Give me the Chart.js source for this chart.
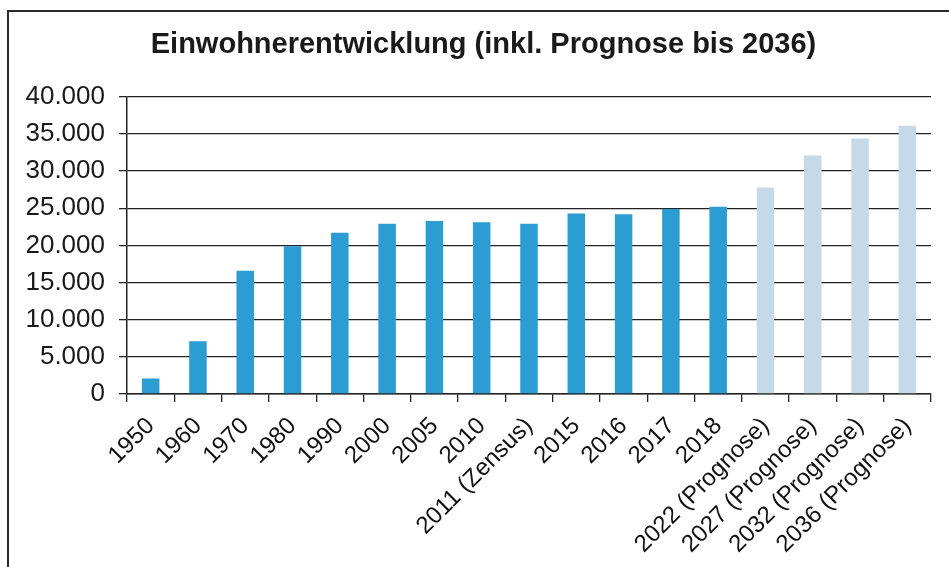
<!DOCTYPE html>
<html>
<head>
<meta charset="utf-8">
<script src="https://cdn.jsdelivr.net/npm/chart.js@4"></script>
<style>
  html, body { margin: 0; padding: 0; background: #fff; overflow: hidden; }
  #wrap { position: relative; width: 949px; height: 567px; }
  #frame {
    position: absolute; left: 7px; top: 10px; width: 1000px; height: 600px;
    border-left: 2px solid #2a2a2a; border-top: 2px solid #2a2a2a;
    pointer-events: none;
  }
  canvas { position: absolute; left: 0; top: 0; }
</style>
</head>
<body>
<div id="wrap">
  <canvas id="einwohnerChart" width="949" height="567"></canvas>
  <div id="frame"></div>
</div>
<script>
// Jahre / Kategorien
const jahre = ["1950", "1960", "1970", "1980", "1990", "2000", "2005", "2010",
  "2011 (Zensus)", "2015", "2016", "2017", "2018",
  "2022 (Prognose)", "2027 (Prognose)", "2032 (Prognose)", "2036 (Prognose)"];

// Einwohner
const einwohner = [2100, 7100, 16600, 19900, 21700, 22900, 23300, 23100,
  22900, 24300, 24200, 24900, 25200,
  27800, 32100, 34400, 36100];

// true = Prognosewert
const prognose = [false, false, false, false, false, false, false, false,
  false, false, false, false, false,
  true, true, true, true];

const yTicks = [0, 5000, 10000, 15000, 20000, 25000, 30000, 35000, 40000];

const dunkel = "#2b9dd3";
const hell = "#c6d9e9";

function formatDe(v) {
  // Tausenderpunkt
  return String(v).replace(/\B(?=(\d{3})+(?!\d))/g, ".");
}

const fontFam = "'Liberation Sans', Arial, sans-serif";

const ctx = document.getElementById("einwohnerChart").getContext("2d");
new Chart(ctx, {
  type: "bar",
  data: {
    labels: jahre,
    datasets: [{
      label: "Einwohner",
      data: einwohner,
      backgroundColor: prognose.map(p => p ? hell : dunkel),
      borderWidth: 0,
      barPercentage: 0.37,
      categoryPercentage: 1.0
    }]
  },
  options: {
    responsive: false,
    animation: false,
    layout: { padding: { left: 18, right: 0, top: 0, bottom: 0 } },
    plugins: {
      legend: { display: false },
      tooltip: { enabled: false },
      title: {
        display: true,
        text: "Einwohnerentwicklung (inkl. Prognose bis 2036)",
        color: "#1a1a1a",
        font: { family: fontFam, size: 29, weight: "bold" },
        padding: { top: 28, bottom: 34 }
      }
    },
    scales: {
      x: {
        offset: true,
        grid: { display: true, drawOnChartArea: false, drawTicks: true, tickLength: 8, color: "#222", lineWidth: 1.3 },
        border: { display: true, color: "#222", width: 1.5 },
        ticks: {
          color: "#111",
          font: { family: fontFam, size: 24 },
          minRotation: 45,
          maxRotation: 45,
          autoSkip: false,
          padding: 10
        },
        afterFit(scale) { scale.height = 173; }
      },
      y: {
        min: 0,
        max: 40000,
        afterBuildTicks(scale) { scale.ticks = yTicks.map(v => ({ value: v })); },
        grid: { color: "#222", lineWidth: 1.3, drawTicks: true, tickLength: 8 },
        border: { display: true, color: "#222", width: 1.5 },
        ticks: {
          color: "#1a1a1a",
          font: { family: fontFam, size: 26 },
          padding: 14,
          callback: v => formatDe(v)
        },
        afterFit(scale) { scale.width = 109; }
      },
      yRechts: {
        position: "right",
        display: true,
        grid: { display: false },
        border: { display: false },
        ticks: { display: false },
        afterFit(scale) { scale.width = 18; }
      }
    }
  }
});
</script>
</body>
</html>
